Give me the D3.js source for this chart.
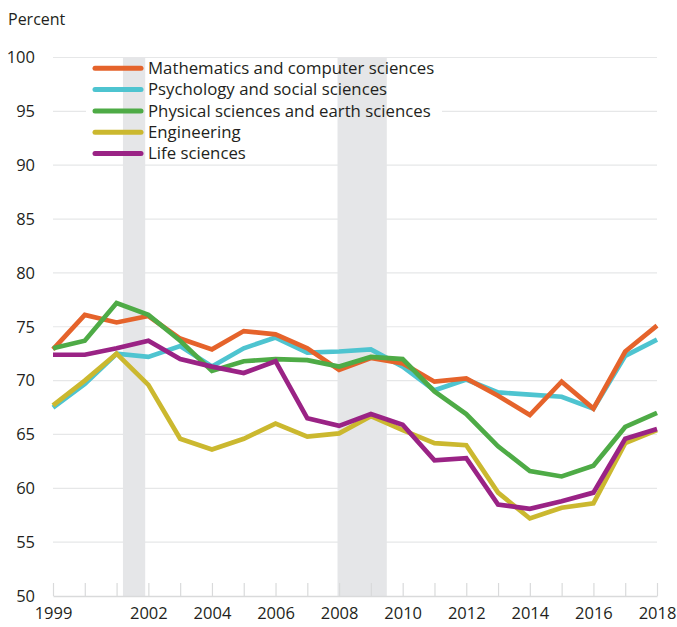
<!DOCTYPE html>
<html>
<head>
<meta charset="utf-8">
<script src="https://cdn.jsdelivr.net/npm/d3@7"></script>
<style>
  body { margin: 0; background: #fff; }
  svg text { font-family: "Open Sans", sans-serif; fill: #231f20; }
</style>
</head>
<body>
<svg width="677" height="627"></svg>
<script>
// Years on the x axis
const years = d3.range(1999, 2019);

// Percent values per field
const mathCS = [72.9, 76.1, 75.4, 76.0, 73.9, 72.9, 74.6, 74.3, 73.0, 71.0, 72.1, 71.6, 69.9, 70.2, 68.6, 66.8, 69.9, 67.4, 72.7, 75.1];
const psychSocial = [67.5, 69.7, 72.5, 72.2, 73.2, 71.3, 73.0, 74.0, 72.6, 72.7, 72.9, 71.3, 69.1, 70.1, 68.9, 68.7, 68.5, 67.4, 72.3, 73.8];
const physEarth = [73.0, 73.7, 77.2, 76.1, 73.7, 70.9, 71.8, 72.0, 71.9, 71.3, 72.2, 72.0, 69.0, 66.9, 63.9, 61.6, 61.1, 62.1, 65.7, 67.0];
const engineering = [67.7, 70.0, 72.5, 69.6, 64.6, 63.6, 64.6, 66.0, 64.8, 65.1, 66.7, 65.4, 64.2, 64.0, 59.6, 57.2, 58.2, 58.6, 64.2, 65.4];
const lifeSci = [72.4, 72.4, 73.0, 73.7, 72.0, 71.3, 70.7, 71.8, 66.5, 65.8, 66.9, 65.9, 62.6, 62.8, 58.5, 58.1, 58.8, 59.6, 64.6, 65.5];

const seriesNames = ["Mathematics and computer sciences", "Psychology and social sciences", "Physical sciences and earth sciences", "Engineering", "Life sciences"];
const seriesValues = [mathCS, psychSocial, physEarth, engineering, lifeSci];
const seriesColors = ["#e5632b", "#4ec4d0", "#4eab46", "#cbb82f", "#9a2385"];

// Recession periods (fractional years)
const recessions = [[2001.2, 2001.9], [2007.95, 2009.5]];

const yTicks = [50, 55, 60, 65, 70, 75, 80, 85, 90, 95, 100];
const xLabels = [1999, 2002, 2004, 2006, 2008, 2010, 2012, 2014, 2016, 2018];

const svg = d3.select("svg");

const x = d3.scaleLinear().domain([1999, 2018]).range([53, 657]);
const y = d3.scaleLinear().domain([50, 100]).range([596, 57.5]);

// gridlines
svg.append("g")
  .selectAll("line")
  .data(yTicks.filter(d => d > 50))
  .join("line")
  .attr("x1", x(1999)).attr("x2", x(2018))
  .attr("y1", d => y(d)).attr("y2", d => y(d))
  .attr("stroke", "#e6e7e8")
  .attr("stroke-width", 1.2);

// white patch behind the legend
svg.append("rect")
  .attr("x", 86).attr("y", y(99.6))
  .attr("width", 356).attr("height", y(90.5) - y(99.6))
  .attr("fill", "#fff");

// recession bars
svg.append("g")
  .selectAll("rect")
  .data(recessions)
  .join("rect")
  .attr("x", d => x(d[0]))
  .attr("width", d => x(d[1]) - x(d[0]))
  .attr("y", y(100))
  .attr("height", y(50) - y(100))
  .attr("fill", "#e5e6e8");

// x axis
const xAxis = d3.axisBottom(x)
  .tickValues(years)
  .tickSize(0)
  .tickFormat(d => xLabels.includes(d) ? d : "");
const gx = svg.append("g")
  .attr("transform", `translate(0,${y(50)})`)
  .call(xAxis);
gx.select(".domain").attr("stroke", "#d9dadb").attr("stroke-width", 1.5);
gx.selectAll(".tick line").remove();
gx.selectAll(".tick").append("line")
  .attr("y1", 0).attr("y2", -13)
  .attr("stroke", "#d9dadb").attr("stroke-width", 1.2);
gx.selectAll(".tick text")
  .attr("y", 11)
  .style("font-size", "16.5px");

// y axis
const gy = svg.append("g")
  .attr("transform", `translate(35,0)`)
  .call(d3.axisLeft(y).tickValues(yTicks).tickSize(0).tickPadding(0));
gy.select(".domain").remove();
gy.selectAll(".tick text").style("font-size", "16.5px");

svg.append("text")
  .attr("x", 8).attr("y", 25)
  .style("font-size", "16px")
  .text("Percent");

// lines
const line = d3.line()
  .x((d, i) => x(years[i]))
  .y(d => y(d));

const drawOrder = [1, 0, 3, 2, 4];
svg.append("g")
  .selectAll("path")
  .data(drawOrder)
  .join("path")
  .attr("d", i => line(seriesValues[i]))
  .attr("fill", "none")
  .attr("stroke", i => seriesColors[i])
  .attr("stroke-width", 4.7)
  .attr("stroke-linejoin", "miter");

// legend
const legend = svg.append("g")
  .selectAll("g")
  .data(seriesNames)
  .join("g")
  .attr("transform", (d, i) => `translate(95,${68.3 + i * 21.3})`);
legend.append("line")
  .attr("x1", 0).attr("x2", 46)
  .attr("stroke", (d, i) => seriesColors[i])
  .attr("stroke-width", 5)
  .attr("stroke-linecap", "round");
legend.append("text")
  .attr("x", 53).attr("dy", "0.35em")
  .style("font-size", "16.8px")
  .text(d => d);
</script>
</body>
</html>
